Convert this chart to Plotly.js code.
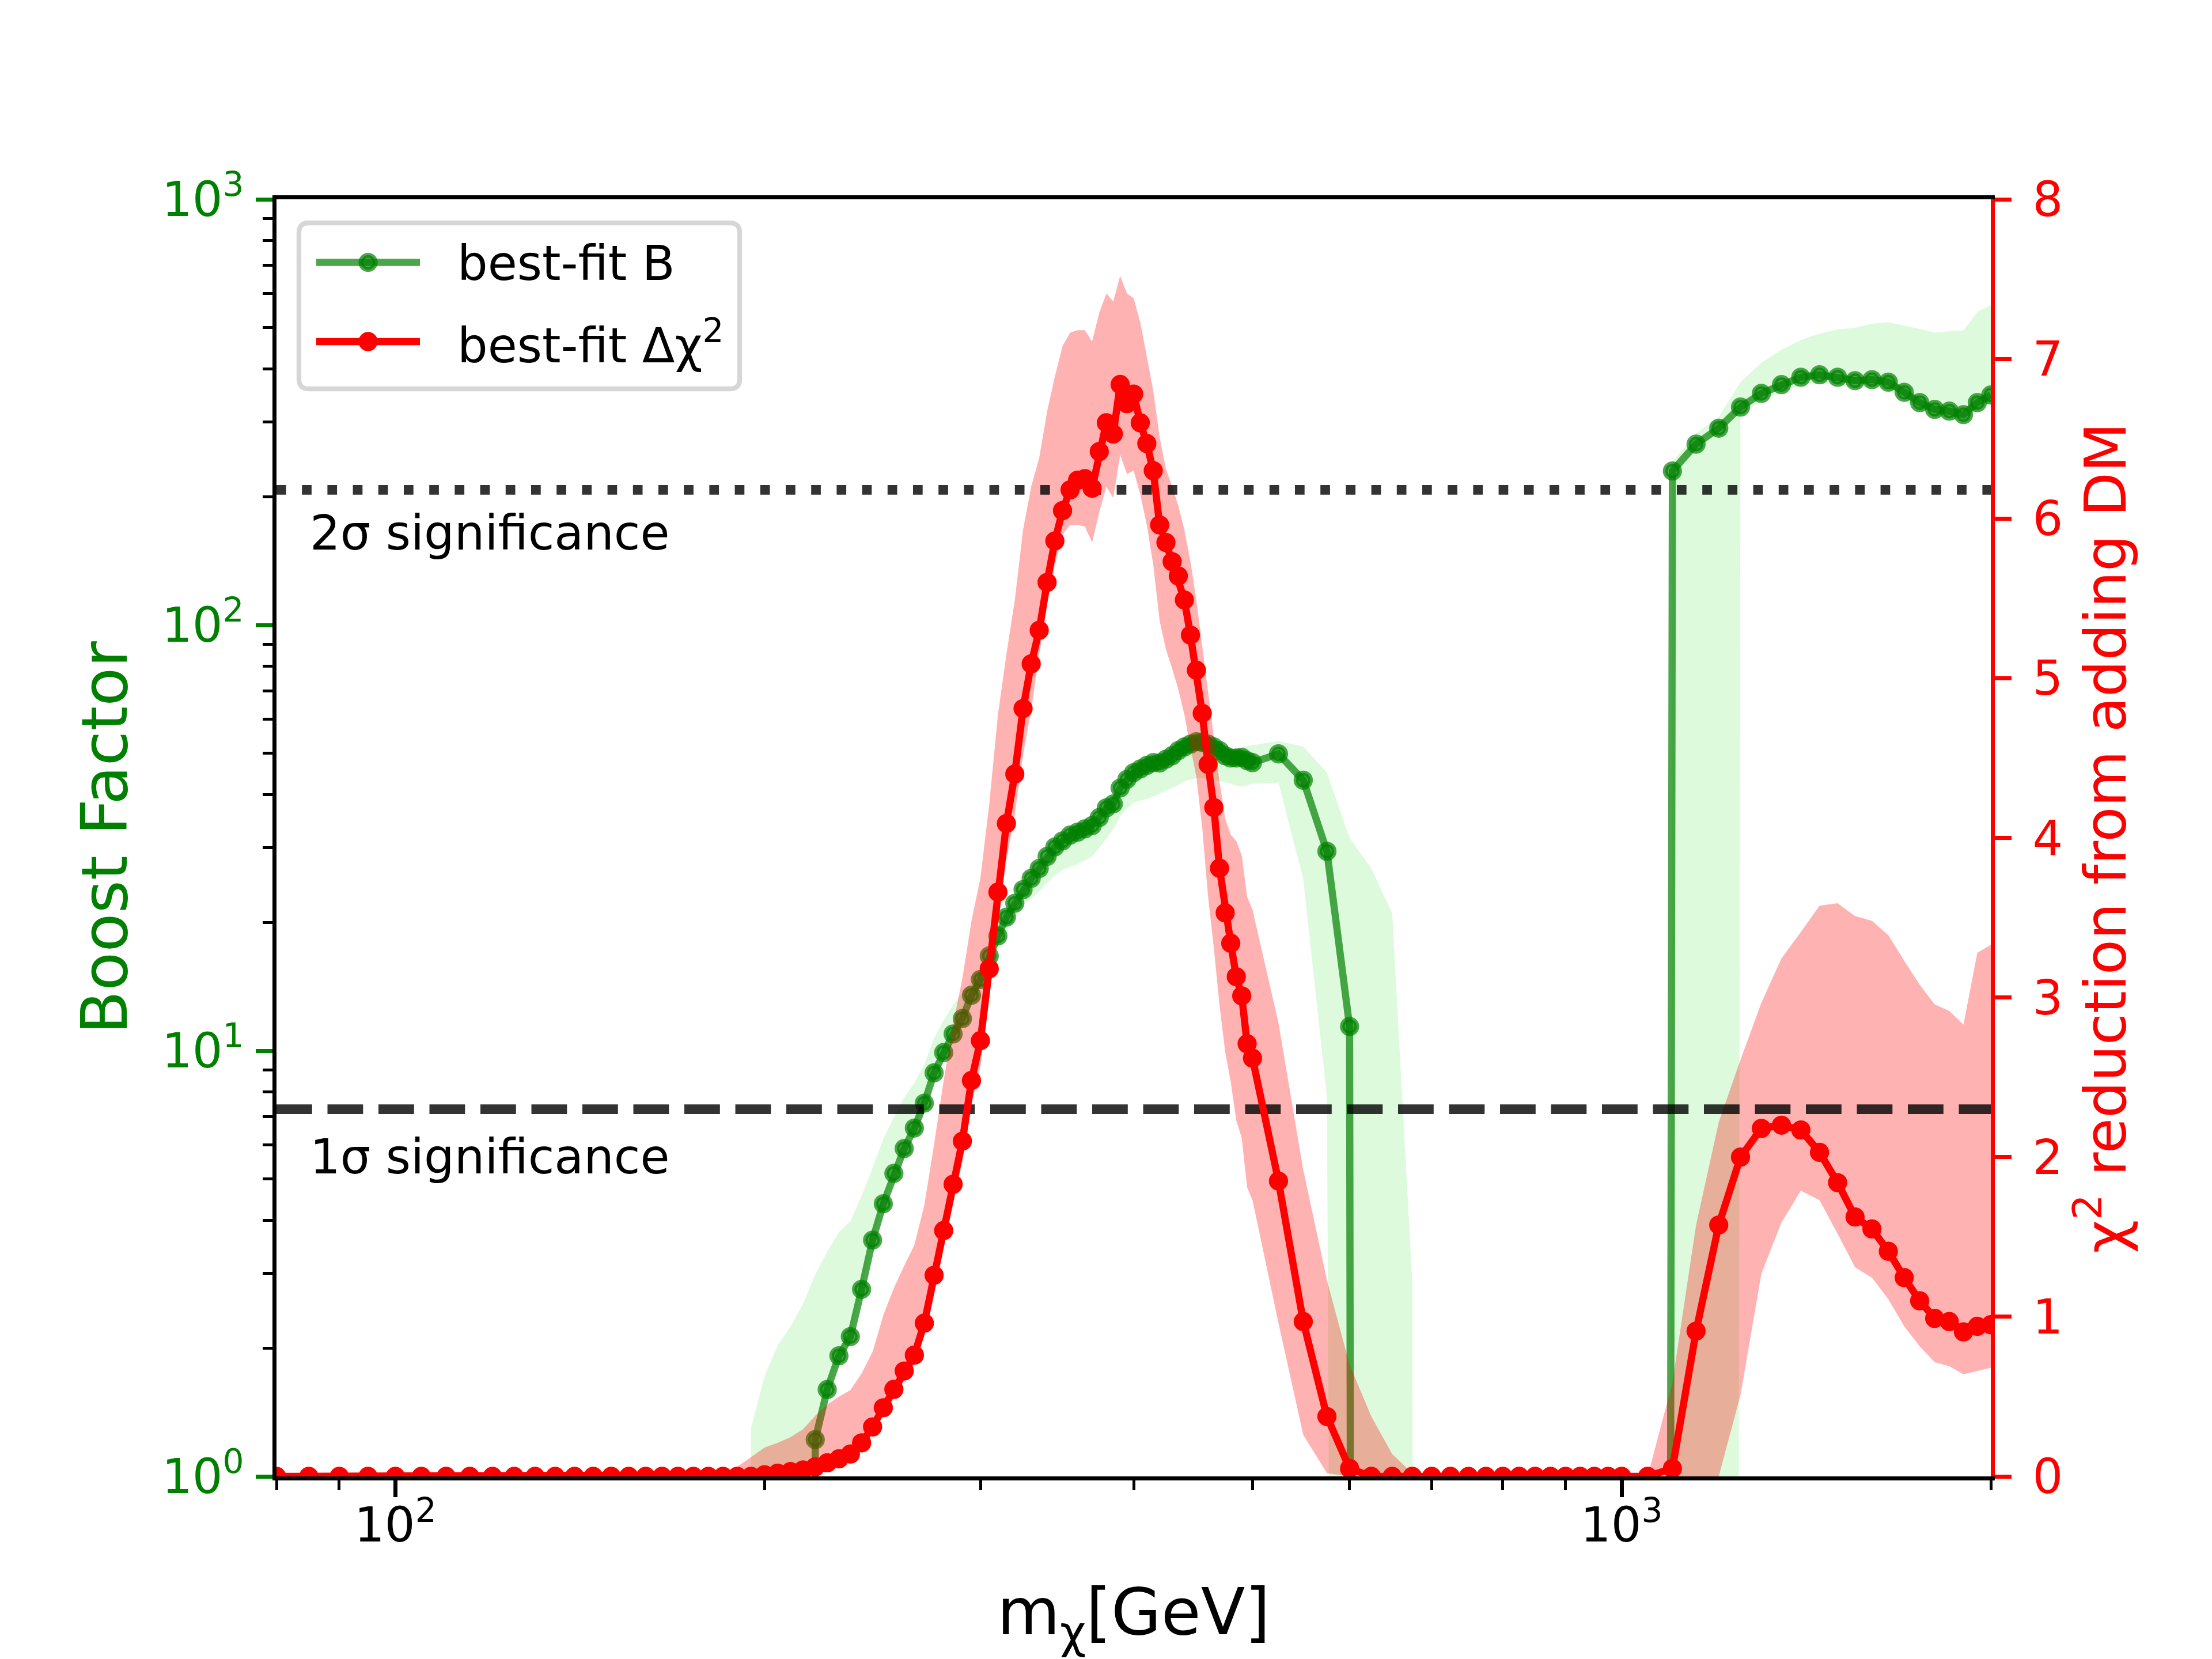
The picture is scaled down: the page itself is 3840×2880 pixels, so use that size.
<!DOCTYPE html>
<html>
<head>
<meta charset="utf-8">
<script src="https://cdn.plot.ly/plotly-3.0.1.min.js"></script>
<style>
  html, body { margin: 0; padding: 0; background: #fff; }
  #chart { width: 3840px; height: 2880px; }
</style>
</head>
<body>
<div id="chart"></div>
<script>
// dark matter mass grid (GeV)
var massGeV = [
  80, 85, 90, 95, 100, 105, 110, 115, 120, 125, 130, 135, 140, 145, 150, 155, 160, 165, 170, 175,
  180, 185, 190, 195, 200, 205, 210, 215, 220, 225, 230, 235, 240, 245, 250, 255, 260, 265, 270, 275,
  280, 285, 290, 295, 300, 305, 310, 315, 320, 325, 330, 335, 340, 345, 350, 355, 360, 365, 370, 375,
  380, 385, 390, 395, 400, 405, 410, 415, 420, 425, 430, 435, 440, 445, 450, 455, 460, 465, 470, 475,
  480, 485, 490, 495, 500, 525, 550, 575, 600, 625, 650, 675, 700, 725, 750, 775, 800, 825, 850, 875,
  900, 925, 950, 975, 1000, 1050, 1100, 1150, 1200, 1250, 1300, 1350, 1400, 1450, 1500, 1550, 1600, 1650, 1700, 1750,
  1800, 1850, 1900, 1950, 2000
];

// best-fit boost factor and its band (0 = no fit)
var boostBest = [
  0, 0, 0, 0, 0, 0, 0, 0, 0, 0, 0, 0, 0, 0, 0, 0, 0, 0, 0, 0,
  0, 0, 0, 0, 0, 0, 0, 0, 1.22, 1.60, 1.92, 2.13, 2.75, 3.59, 4.37, 5.15, 5.89, 6.58, 7.53, 8.87,
  9.90, 10.95, 11.9, 13.5, 14.7, 16.7, 18.6, 20.6, 22.2, 23.9, 25.4, 26.8, 28.6, 30.1, 31.1, 32.1, 32.6, 33.2, 33.8, 35.3,
  37.2, 38.0, 41.4, 43.4, 45.0, 45.9, 46.8, 47.5, 47.4, 48.4, 49.3, 50.7, 51.7, 52.5, 53.2, 53.0, 52.5, 51.7, 50.7, 49.3,
  48.7, 48.7, 48.9, 48.0, 47.5, 49.8, 43.2, 29.4, 11.4, 0, 0, 0, 0, 0, 0, 0, 0, 0, 0, 0,
  0, 0, 0, 0, 0, 0, 230, 266, 290, 325, 350, 367, 382, 387, 382, 375, 377, 372, 352, 333,
  321, 318, 312, 333, 347
];
var boostHigh = [
  0, 0, 0, 0, 0, 0, 0, 0, 0, 0, 0, 0, 0, 0, 0, 0, 0, 0, 0, 0,
  0, 0, 0, 1.3, 1.72, 2.03, 2.25, 2.54, 2.98, 3.37, 3.75, 3.97, 4.56, 5.30, 6.21, 6.97, 7.77, 8.4, 9.3, 10.7,
  11.8, 12.8, 13.7, 14.5, 15.5, 17.0, 18.9, 20.9, 22.5, 24.2, 25.7, 27.1, 28.9, 30.4, 31.4, 32.4, 32.9, 33.5, 34.1, 35.6,
  37.6, 38.4, 41.8, 43.8, 45.4, 46.3, 47.2, 47.9, 47.9, 48.9, 49.8, 51.2, 52.2, 53.0, 53.7, 53.5, 53.0, 52.2, 51.5, 50.5,
  50.5, 51.0, 51.5, 52.0, 52.2, 53.4, 51.8, 45.0, 31.6, 26.8, 21.0, 2.85, 0, 0, 0, 0, 0, 0, 0, 0,
  0, 0, 0, 0, 0, 0, 242, 282, 308, 372, 413, 443, 467, 484, 495, 499, 510, 514, 505, 496,
  486, 490, 492, 544, 564
];
var boostLow = [
  0, 0, 0, 0, 0, 0, 0, 0, 0, 0, 0, 0, 0, 0, 0, 0, 0, 0, 0, 0,
  0, 0, 0, 0, 0, 0, 0, 0, 1.22, 1.60, 1.92, 2.13, 2.75, 3.59, 4.37, 5.15, 5.89, 6.58, 7.53, 8.87,
  9.90, 10.8, 11.6, 12.9, 14.0, 15.7, 17.3, 19.0, 20.5, 22.0, 22.8, 23.6, 24.8, 25.8, 26.6, 27.0, 27.4, 28.0, 28.6, 30.0,
  31.5, 33.2, 35.5, 37.0, 38.3, 38.7, 39.0, 39.6, 40.1, 40.8, 41.4, 42.1, 42.9, 43.3, 43.7, 43.7, 43.6, 43.3, 43.0, 42.7,
  42.4, 42.0, 41.7, 42.0, 42.4, 42.6, 25.3, 7.77, 0, 0, 0, 0, 0, 0, 0, 0, 0, 0, 0, 0,
  0, 0, 0, 0, 0, 0, 0, 0, 0, 312, 336, 352, 367, 371, 367, 360, 362, 357, 338, 320,
  308, 305, 300, 320, 333
];

// best-fit chi^2 reduction and its band
var dchi2Best = [
  0, 0, 0, 0, 0, 0, 0, 0, 0, 0, 0, 0, 0, 0, 0, 0, 0, 0, 0, 0,
  0, 0, 0, 0, 0.01, 0.02, 0.03, 0.04, 0.06, 0.085, 0.11, 0.14, 0.21, 0.31, 0.43, 0.545, 0.66, 0.76, 0.96, 1.26,
  1.54, 1.83, 2.10, 2.48, 2.73, 3.18, 3.66, 4.09, 4.40, 4.81, 5.09, 5.30, 5.60, 5.86, 6.05, 6.18, 6.24, 6.25, 6.19, 6.42,
  6.60, 6.53, 6.84, 6.72, 6.78, 6.60, 6.47, 6.30, 5.96, 5.85, 5.73, 5.64, 5.49, 5.27, 5.05, 4.78, 4.46, 4.19, 3.81, 3.53,
  3.34, 3.13, 3.01, 2.71, 2.62, 1.85, 0.97, 0.375, 0.05, 0, 0, 0, 0, 0, 0, 0, 0, 0, 0, 0,
  0, 0, 0, 0, 0, 0, 0.05, 0.91, 1.575, 2.00, 2.18, 2.20, 2.17, 2.03, 1.84, 1.625, 1.55, 1.41, 1.245, 1.10,
  0.99, 0.97, 0.905, 0.94, 0.95
];
var dchi2High = [
  0, 0, 0, 0, 0, 0, 0, 0, 0, 0, 0, 0, 0, 0, 0, 0, 0, 0, 0, 0,
  0, 0, 0.06, 0.12, 0.18, 0.21, 0.245, 0.295, 0.38, 0.45, 0.50, 0.54, 0.645, 0.78, 1.01, 1.18, 1.32, 1.45, 1.70, 2.08,
  2.48, 2.83, 3.12, 3.48, 3.75, 4.21, 4.77, 5.15, 5.49, 5.93, 6.20, 6.38, 6.67, 6.89, 7.08, 7.165, 7.18, 7.18, 7.11, 7.29,
  7.41, 7.36, 7.52, 7.41, 7.38, 7.23, 7.02, 6.80, 6.51, 6.31, 6.20, 6.08, 5.93, 5.73, 5.49, 5.20, 4.93, 4.63, 4.35, 4.12,
  4.02, 3.98, 3.89, 3.63, 3.55, 2.84, 1.92, 1.23, 0.70, 0.375, 0.14, 0.02, 0, 0, 0, 0, 0, 0, 0, 0,
  0, 0, 0, 0, 0, 0, 0.587, 1.575, 2.218, 2.61, 2.967, 3.245, 3.41, 3.575, 3.59, 3.51, 3.48, 3.39, 3.23, 3.08,
  2.957, 2.916, 2.83, 3.28, 3.33
];
var dchi2Low = [
  0, 0, 0, 0, 0, 0, 0, 0, 0, 0, 0, 0, 0, 0, 0, 0, 0, 0, 0, 0,
  0, 0, 0, 0, 0, 0.01, 0.02, 0.03, 0.05, 0.07, 0.09, 0.12, 0.18, 0.27, 0.38, 0.49, 0.60, 0.70, 0.88, 1.16,
  1.43, 1.71, 1.97, 2.33, 2.57, 3.0, 3.45, 3.86, 4.15, 4.52, 4.80, 5.15, 5.46, 5.71, 5.90, 5.96, 5.96, 5.95, 5.85, 6.04,
  6.20, 6.13, 6.40, 6.28, 6.30, 6.15, 5.96, 5.71, 5.36, 5.18, 5.06, 4.93, 4.77, 4.57, 4.38, 4.06, 3.63, 3.31, 2.95, 2.66,
  2.47, 2.23, 2.12, 1.81, 1.73, 0.96, 0.26, 0.02, 0, 0, 0, 0, 0, 0, 0, 0, 0, 0, 0, 0,
  0, 0, 0, 0, 0, 0, 0, 0, 0, 0.51, 1.27, 1.59, 1.79, 1.73, 1.52, 1.31, 1.245, 1.11, 0.94, 0.815,
  0.715, 0.69, 0.64, 0.66, 0.68
];

// significance thresholds for the chi^2 reduction
var sigma1 = 2.30;
var sigma2 = 6.18;
var massRange = [80, 2000];

var xTickVals = [100, 1000];
var xTickText = ['10<sup>2</sup>', '10<sup>3</sup>'];
var xMinorVals = [80, 90, 200, 300, 400, 500, 600, 700, 800, 900, 2000];
var yTickVals = [1, 10, 100, 1000];
var yTickText = ['10<sup>0</sup>', '10<sup>1</sup>', '10<sup>2</sup>', '10<sup>3</sup>'];
var yMinorVals = [2, 3, 4, 5, 6, 7, 8, 9, 20, 30, 40, 50, 60, 70, 80, 90, 200, 300, 400, 500, 600, 700, 800, 900];

var GREEN = '#008000';
var GREEN_A = 'rgba(0,128,0,0.7)';
var RED = '#ff0000';

// zeros sit far below the log axis, like a clipped log scale
function clip_log(values) {
  return values.map(function (v) { return v > 0 ? v : 1e-30; });
}

// figure geometry (px)
var plotL = 480, plotT = 346, plotW = 2976, plotH = 2217;
function px(x) { return (x - plotL) / plotW; }
function py(y) { return (plotT + plotH - y) / plotH; }

var traces = [
  {
    x: massGeV, y: clip_log(boostLow), yaxis: 'y', mode: 'lines',
    line: { width: 0, color: 'rgba(144,238,144,0)' }, hoverinfo: 'skip', showlegend: false
  },
  {
    x: massGeV, y: clip_log(boostHigh), yaxis: 'y', mode: 'lines', fill: 'tonexty',
    fillcolor: 'rgba(144,238,144,0.3)', line: { width: 0, color: 'rgba(144,238,144,0)' },
    hoverinfo: 'skip', showlegend: false
  },
  {
    x: massGeV, y: clip_log(boostBest), yaxis: 'y', mode: 'lines+markers', name: 'best-fit B',
    line: { color: GREEN_A, width: 12.5 },
    marker: { size: 25, color: GREEN_A, line: { color: GREEN_A, width: 8.3 } }
  },
  {
    x: massGeV, y: dchi2Low, yaxis: 'y2', mode: 'lines',
    line: { width: 0, color: 'rgba(255,0,0,0)' }, hoverinfo: 'skip', showlegend: false
  },
  {
    x: massGeV, y: dchi2High, yaxis: 'y2', mode: 'lines', fill: 'tonexty',
    fillcolor: 'rgba(255,0,0,0.3)', line: { width: 0, color: 'rgba(255,0,0,0)' },
    hoverinfo: 'skip', showlegend: false
  },
  {
    x: massRange, y: [sigma2, sigma2], yaxis: 'y2', mode: 'lines', showlegend: false,
    line: { color: 'rgba(0,0,0,0.8)', width: 16.7, dash: '16.7px,27.5px' }
  },
  {
    x: massRange, y: [sigma1, sigma1], yaxis: 'y2', mode: 'lines', showlegend: false,
    line: { color: 'rgba(0,0,0,0.8)', width: 16.7, dash: '61.8px,26.7px' }
  },
  {
    x: massGeV, y: dchi2Best, yaxis: 'y2', mode: 'lines+markers', name: 'best-fit \u0394\u03c7<sup>2</sup>',
    line: { color: RED, width: 12.5 },
    marker: { size: 25, color: RED, line: { color: RED, width: 8.3 } }
  }
];

// legend box drawn by hand so the keys keep matplotlib proportions
var lg = { left: 519, right: 1284, top: 387, bottom: 675, r: 16.7 };
var rx = lg.r / plotW, ry = lg.r / plotH;
var bx0 = px(lg.left), bx1 = px(lg.right), by0 = py(lg.bottom), by1 = py(lg.top);
var framePath = 'M' + (bx0 + rx) + ',' + by1 + ' L' + (bx1 - rx) + ',' + by1 +
  ' Q' + bx1 + ',' + by1 + ' ' + bx1 + ',' + (by1 - ry) + ' L' + bx1 + ',' + (by0 + ry) +
  ' Q' + bx1 + ',' + by0 + ' ' + (bx1 - rx) + ',' + by0 + ' L' + (bx0 + rx) + ',' + by0 +
  ' Q' + bx0 + ',' + by0 + ' ' + bx0 + ',' + (by0 + ry) + ' L' + bx0 + ',' + (by1 - ry) +
  ' Q' + bx0 + ',' + by1 + ' ' + (bx0 + rx) + ',' + by1 + ' Z';

var keyRows = [
  { y: 455.6, color: GREEN_A, text: 'best-fit B' },
  { y: 593, color: RED, text: 'best-fit \u0394\u03c7<sup>2</sup>' }
];
var keyX0 = 549, keyX1 = 729, keyMid = 639, textX = 792, dotR = 12.5;

var shapes = [{
  type: 'path', xref: 'paper', yref: 'paper', path: framePath, layer: 'above',
  fillcolor: 'rgba(255,255,255,0.8)', line: { color: 'rgba(204,204,204,0.8)', width: 8.3 }
}];
var annotations = [];
keyRows.forEach(function (row) {
  shapes.push({
    type: 'line', xref: 'paper', yref: 'paper', layer: 'above',
    x0: px(keyX0), x1: px(keyX1), y0: py(row.y), y1: py(row.y),
    line: { color: row.color, width: 12.5 }
  });
  shapes.push({
    type: 'circle', xref: 'paper', yref: 'paper', layer: 'above',
    x0: px(keyMid - dotR), x1: px(keyMid + dotR), y0: py(row.y + dotR), y1: py(row.y - dotR),
    fillcolor: row.color, line: { color: row.color, width: 8.3 }
  });
  annotations.push({
    xref: 'paper', yref: 'paper', x: px(textX), y: py(row.y + 1.5), xanchor: 'left', yanchor: 'middle',
    text: row.text, showarrow: false, font: { size: 83, color: 'black' }
  });
});

annotations.push({
  xref: 'x', yref: 'y2', x: Math.log10(85), y: sigma2 - 0.27, xanchor: 'left', yanchor: 'middle',
  text: '2\u03c3 significance', showarrow: false, font: { size: 83, color: 'black' }
});
annotations.push({
  xref: 'x', yref: 'y2', x: Math.log10(85), y: sigma1 - 0.30, xanchor: 'left', yanchor: 'middle',
  text: '1\u03c3 significance', showarrow: false, font: { size: 83, color: 'black' }
});

var layout = {
  width: 3840,
  height: 2880,
  margin: { l: plotL, r: 3840 - plotL - plotW, t: plotT, b: 2880 - plotT - plotH, pad: 0 },
  paper_bgcolor: '#ffffff',
  plot_bgcolor: '#ffffff',
  font: { family: 'DejaVu Sans, sans-serif', size: 83, color: '#000000' },
  showlegend: false,
  xaxis: {
    type: 'log',
    range: [Math.log10(massRange[0]), Math.log10(massRange[1])],
    showline: true, linecolor: '#000000', linewidth: 6.7, mirror: true,
    ticks: 'outside', ticklen: 29, tickwidth: 6.7, tickcolor: '#000000',
    tickmode: 'array', tickvals: xTickVals, ticktext: xTickText,
    tickfont: { size: 83, color: '#000000' },
    ticklabelstandoff: -22,
    minor: { tickmode: 'array', tickvals: xMinorVals, ticks: 'outside', ticklen: 16.7, tickwidth: 5, tickcolor: '#000000', showgrid: false },
    showgrid: false, zeroline: false,
    title: { text: 'm<sub>\u03c7</sub>[GeV]', font: { size: 112, color: '#000000' }, standoff: 66 }
  },
  yaxis: {
    type: 'log',
    range: [0, 3],
    showline: true, linecolor: '#000000', linewidth: 6.7,
    ticks: 'outside', ticklen: 29, tickwidth: 6.7, tickcolor: GREEN,
    tickmode: 'array', tickvals: yTickVals, ticktext: yTickText,
    tickfont: { size: 83, color: GREEN },
    ticklabelstandoff: 4,
    minor: { tickmode: 'array', tickvals: yMinorVals, ticks: 'outside', ticklen: 16.7, tickwidth: 5, tickcolor: '#000000', showgrid: false },
    showgrid: false, zeroline: false,
    title: { text: 'Boost Factor', font: { size: 110, color: GREEN }, standoff: 26 }
  },
  yaxis2: {
    overlaying: 'y', side: 'right',
    range: [0, 8], tick0: 0, dtick: 1,
    showline: true, linecolor: RED, linewidth: 6.7,
    ticks: 'outside', ticklen: 29, tickwidth: 6.7, tickcolor: RED,
    tickfont: { size: 83, color: RED },
    ticklabelstandoff: 20,
    showgrid: false, zeroline: false,
    title: { text: '\u03c7<sup>2</sup> reduction from adding DM', font: { size: 100, color: RED }, standoff: 42 }
  },
  shapes: shapes,
  annotations: annotations
};

Plotly.newPlot('chart', traces, layout, { displayModeBar: false, responsive: false });
</script>
</body>
</html>
